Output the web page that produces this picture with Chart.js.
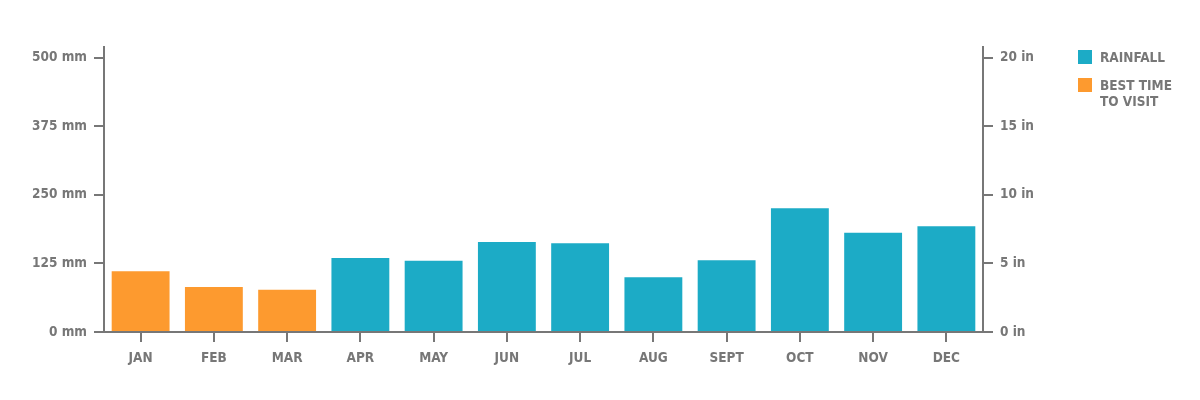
<!DOCTYPE html>
<html>
<head>
<meta charset="utf-8">
<script src="https://cdn.jsdelivr.net/npm/chart.js@4"></script>
<style>
  body { margin: 0; background: #fff; }
  #wrap { position: relative; width: 1200px; height: 400px; }
  .legend { position: absolute; left: 1078px; font-family: "DejaVu Sans Condensed", "Liberation Sans", sans-serif; font-weight: bold; font-size: 13.5px; color: #777; line-height: 16px; }
  .legend .sw { position: absolute; left: 0; top: 0; width: 14px; height: 14px; }
  .legend .tx { position: absolute; left: 22px; top: -1px; white-space: nowrap; }
</style>
</head>
<body>
<div id="wrap">
  <canvas id="myChart" width="1200" height="400"></canvas>
  <div class="legend" style="top:50px"><div class="sw" style="background:#1CABC6"></div><div class="tx">RAINFALL</div></div>
  <div class="legend" style="top:78px"><div class="sw" style="background:#FD9A2F"></div><div class="tx">BEST TIME<br>TO VISIT</div></div>
</div>
<script>
// datos
const months = ['JAN', 'FEB', 'MAR', 'APR', 'MAY', 'JUN', 'JUL', 'AUG', 'SEPT', 'OCT', 'NOV', 'DEC'];
const rainfallMm = [111, 82, 77, 135, 130, 164, 162, 100, 131, 226, 181, 193];
const bestTime = [true, true, true, false, false, false, false, false, false, false, false, false];
const ticksMm = [0, 125, 250, 375, 500];
const ticksIn = [0, 5, 10, 15, 20];

const gris = '#777';
const fuente = { family: '"DejaVu Sans Condensed", "Liberation Sans", sans-serif', weight: 'bold', size: 13.5 };

const barColors = bestTime.map(b => b ? '#FD9A2F' : '#1CABC6');

new Chart('myChart', {
  type: 'bar',
  data: {
    labels: months,
    datasets: [{
      label: 'Rainfall',
      data: rainfallMm,
      backgroundColor: barColors,
      barPercentage: 0.79,
      categoryPercentage: 1,
      yAxisID: 'y'
    }]
  },
  options: {
    responsive: false,
    animation: false,
    layout: { padding: { top: 47, left: 0, right: 0, bottom: 0 } },
    plugins: { legend: { display: false }, tooltip: { enabled: false } },
    scales: {
      x: {
        grid: { drawOnChartArea: false, offset: false, tickLength: 10, color: gris, lineWidth: 2 },
        border: { color: gris, width: 2 },
        ticks: { color: gris, font: fuente, padding: 8, maxRotation: 0 },
        afterFit: s => { s.height = 68; }
      },
      y: {
        position: 'left',
        min: 0, max: 520,
        grid: { drawOnChartArea: false, tickLength: 10, color: gris, lineWidth: 2 },
        border: { color: gris, width: 2 },
        ticks: { color: gris, font: fuente, padding: 7, callback: v => v + ' mm' },
        afterBuildTicks: s => { s.ticks = ticksMm.map(v => ({ value: v })); },
        afterFit: s => { s.width = 104; }
      },
      y2: {
        position: 'right',
        min: 0, max: 20.8,
        grid: { drawOnChartArea: false, tickLength: 10, color: gris, lineWidth: 2 },
        border: { color: gris, width: 2 },
        ticks: { color: gris, font: fuente, padding: 7, callback: v => v + ' in' },
        afterBuildTicks: s => { s.ticks = ticksIn.map(v => ({ value: v })); },
        afterFit: s => { s.width = 217; }
      }
    }
  }
});
</script>
</body>
</html>
